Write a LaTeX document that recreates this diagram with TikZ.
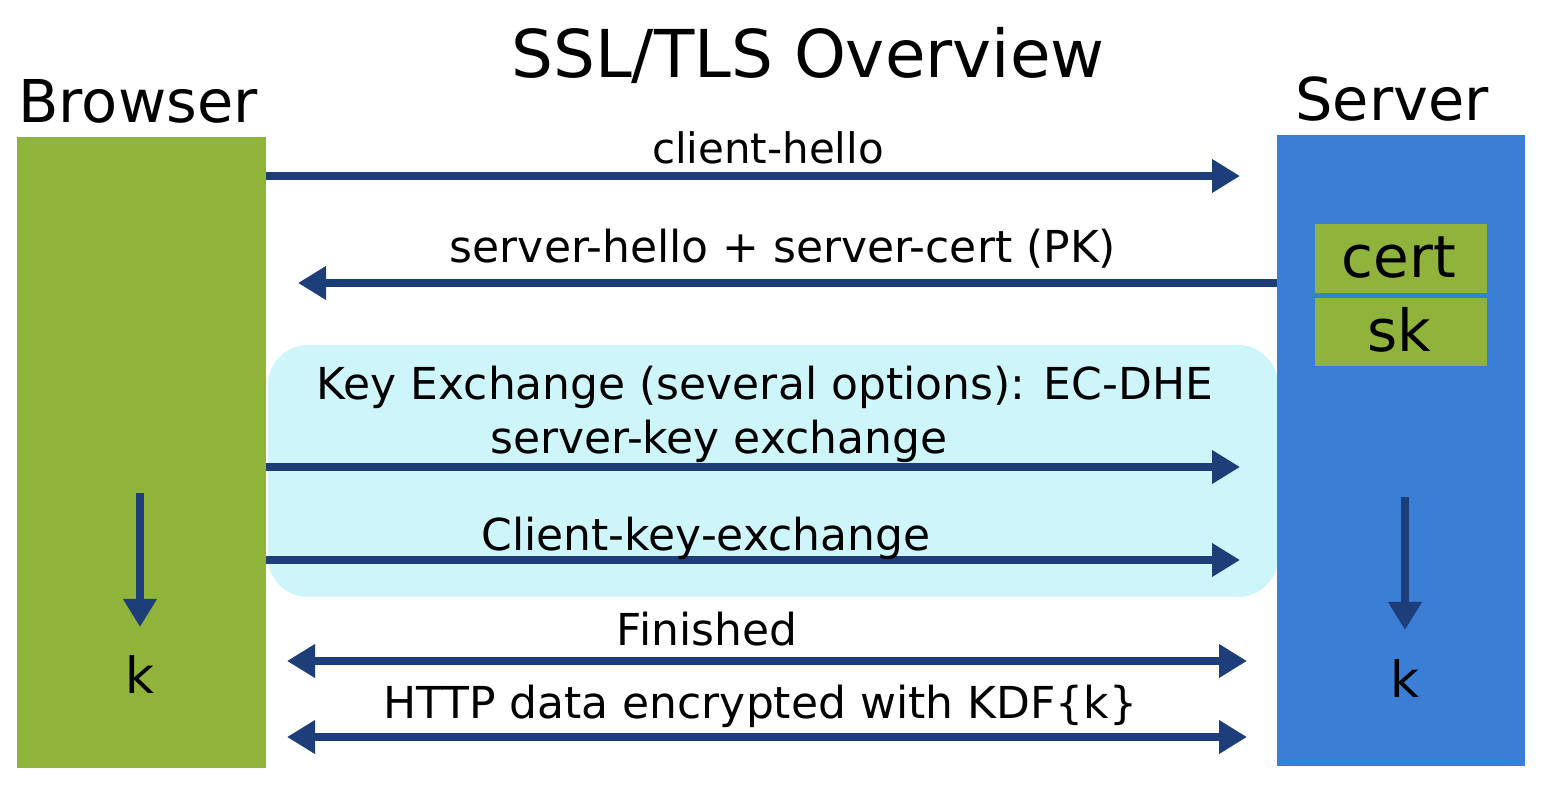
\documentclass[tikz,border=0pt]{standalone}
\usepackage{fontspec}
\setmainfont{DejaVu Sans}
\usetikzlibrary{arrows.meta}
\definecolor{bgreen}{RGB}{143,179,59}
\definecolor{sblue}{RGB}{59,126,213}
\definecolor{navy}{RGB}{30,62,122}
\definecolor{kxcyan}{RGB}{205,245,250}
\begin{document}
\begin{tikzpicture}[x=0.5pt,y=-0.5pt,
  msg/.style={draw=navy, line width=4pt, -{Triangle[length=14pt,width=16pt]}},
  dmsg/.style={draw=navy, line width=4pt, {Triangle[length=14pt,width=16pt]}-{Triangle[length=14pt,width=16pt]}},
  lbl/.style={font=\fontsize{22}{24}\selectfont, inner sep=0pt, anchor=base},
  party/.style={font=\fontsize{29.5}{32}\selectfont, inner sep=0pt, anchor=base},
  block/.style={inner sep=0pt, outer sep=0pt},
  keybox/.style={fill=bgreen, inner sep=0pt, minimum width=86pt, font=\fontsize{29}{32}\selectfont},
  klbl/.style={font=\fontsize{25}{28}\selectfont, inner sep=0pt, anchor=base},
]
\useasboundingbox (0,0) rectangle (1547,785);
% key exchange background
\fill[kxcyan, rounded corners=20pt] (268,345) rectangle (1278,597);
% parties
\node[block, fill=bgreen, minimum width=124.5pt, minimum height=315.5pt] (browser) at (141.5,452.5) {};
\node[block, fill=sblue, minimum width=124pt, minimum height=315.5pt] (server) at (1401,450.5) {};
\node[keybox, minimum height=34.5pt] (cert) at (1401,258.5) {};
\node[keybox, minimum height=34pt] (sk) at (1401,332) {};
\node[keybox, fill=none, minimum width=0pt, anchor=base] (certt) at (1399,278) {cert};
\node[keybox, fill=none, minimum width=0pt, anchor=base] (skt) at (1399,352) {sk};
% titles
\node[inner sep=0pt, anchor=base, font=\fontsize{33}{36}\selectfont] (title) at (808,78) {SSL/TLS Overview};
\node[party] (browserlbl) at (138,123) {Browser};
\node[party] (serverlbl) at (1392,121) {Server};
% coordinates
\coordinate (chA) at (266,176); \coordinate (chB) at (1240,176);
\coordinate (shA) at (1277,283); \coordinate (shB) at (298,283);
\coordinate (skA) at (266,467); \coordinate (skB) at (1240,467);
\coordinate (ckA) at (266,560); \coordinate (ckB) at (1240,560);
\coordinate (fnA) at (287,661); \coordinate (fnB) at (1247,661);
\coordinate (htA) at (287,737); \coordinate (htB) at (1247,737);
\coordinate (dlA) at (140,493); \coordinate (dlB) at (140,627);
\coordinate (drA) at (1405,497); \coordinate (drB) at (1405,630);
% messages
\draw[msg] (chA) -- (chB);
\draw[msg] (shA) -- (shB);
\draw[msg] (skA) -- (skB);
\draw[msg] (ckA) -- (ckB);
\draw[dmsg] (fnA) -- (fnB);
\draw[dmsg] (htA) -- (htB);
\draw[msg] (dlA) -- (dlB);
\draw[msg] (drA) -- (drB);
% labels
\node[lbl, font=\fontsize{21}{24}\selectfont] (l1) at (768,164) {client-hello};
\node[lbl] (l2) at (783,263) {server-hello + server-cert (PK)};
\node[lbl] (l3) at (765,400) {Key Exchange (several options): EC-DHE};
\node[lbl] (l4) at (719,454) {server-key exchange};
\node[lbl] (l5) at (706,551) {Client-key-exchange};
\node[lbl] (l6) at (707,646) {Finished};
\node[lbl] (l7) at (760,718) {HTTP data encrypted with KDF\{k\}};
\node[klbl] (kl) at (140,693) {k};
\node[klbl] (kr) at (1405,697) {k};
\end{tikzpicture}
\end{document}
